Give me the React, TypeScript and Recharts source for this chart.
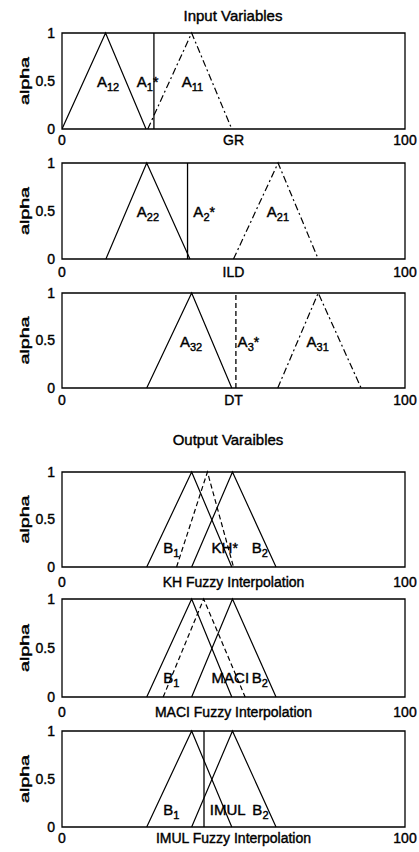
import React from "react";
import { LineChart, Line, XAxis, YAxis, ReferenceLine, ReferenceArea, ReferenceDot } from "recharts";

const FONT = "'Liberation Sans', Arial, Helvetica, sans-serif";

// triangular memberships: [left foot, peak, right foot]
const A12 = [0, 12.7, 24.5];
const A11 = [25, 37.8, 49.5];
const A1_STAR = 26.8;

const A22 = [12.8, 24.7, 37.3];
const A21 = [50, 63, 74.7];
const A2_STAR = 36.6;

const A32 = [24.7, 37.8, 49.5];
const A31 = [62.9, 74.7, 87.2];
const A3_STAR = 50.7;

const B1 = [24.7, 37.8, 49.5];
const B2 = [37.8, 49.7, 62.4];
const KH_STAR = [33.4, 42.4, 50];
const MACI = [29.5, 41.3, 53.4];
const IMUL = 41.4;

const X_TICKS = [0, 100];
const Y_TICKS = [0, 0.5, 1];

const tri = (t: number[]) => [
  { x: t[0], y: 0 },
  { x: t[1], y: 1 },
  { x: t[2], y: 0 },
];

const DASH = "5 3";
const DASHDOT = "7 3 2 3";

type Note = { base: string; sub?: string; sup?: string; x: number; y: number };
type Series = { t: number[]; dash?: string };
type Vert = { x: number; dash?: string };

const grNotes: Note[] = [
  { base: "A", sub: "12", x: 10.2, y: 0.44 },
  { base: "A", sub: "1", sup: "*", x: 21.8, y: 0.44 },
  { base: "A", sub: "11", x: 34.9, y: 0.44 },
];
const ildNotes: Note[] = [
  { base: "A", sub: "22", x: 21.8, y: 0.44 },
  { base: "A", sub: "2", sup: "*", x: 38.3, y: 0.44 },
  { base: "A", sub: "21", x: 59.7, y: 0.44 },
];
const dtNotes: Note[] = [
  { base: "A", sub: "32", x: 34.4, y: 0.43 },
  { base: "A", sub: "3", sup: "*", x: 51.2, y: 0.43 },
  { base: "A", sub: "31", x: 71.3, y: 0.43 },
];
const khNotes: Note[] = [
  { base: "B", sub: "1", x: 29.5, y: 0.15 },
  { base: "KH", sup: "*", x: 43.6, y: 0.15 },
  { base: "B", sub: "2", x: 55.3, y: 0.15 },
];
const maciNotes: Note[] = [
  { base: "B", sub: "1", x: 29.5, y: 0.14 },
  { base: "MACI", x: 43.6, y: 0.14 },
  { base: "B", sub: "2", x: 55.3, y: 0.14 },
];
const imulNotes: Note[] = [
  { base: "B", sub: "1", x: 29.5, y: 0.125 },
  { base: "IMUL", x: 43.1, y: 0.125 },
  { base: "B", sub: "2", x: 55.5, y: 0.125 },
];

const txt = { fill: "#000", stroke: "#000", strokeWidth: 0.4 };

function noteContent(n: Note) {
  return (props: any) => {
    const vb = props.viewBox || {};
    const x = vb.x + (vb.width || 0) / 2;
    const y = vb.y + (vb.height || 0) / 2;
    return (
      <text x={x} y={y} fontSize={15} fontFamily={FONT} {...txt}>
        {n.base}
        {n.sub && (
          <tspan dy={4} fontSize={11}>
            {n.sub}
          </tspan>
        )}
        {n.sup && (
          <tspan dy={n.sub ? -4 : 0} fontSize={14}>
            {n.sup}
          </tspan>
        )}
      </text>
    );
  };
}

interface PanelProps {
  top: number;
  h: number;
  xLabel: string;
  gap: number;
  series: Series[];
  verts: Vert[];
  notes: Note[];
}

function Panel({ top, h, xLabel, gap, series, verts, notes }: PanelProps) {
  const mt = 10;
  const xh = 25;
  const tick = { fill: "#000", fontSize: 14, fontFamily: FONT, stroke: "#000", strokeWidth: 0.4 };
  return (
    <div style={{ position: "absolute", left: 0, top: top - mt }}>
      <LineChart width={419} height={mt + h + xh} margin={{ top: mt, right: 14, bottom: 0, left: 22 }}>
        <XAxis
          type="number"
          dataKey="x"
          domain={[0, 100]}
          ticks={X_TICKS}
          interval={0}
          allowDataOverflow
          axisLine={false}
          tickLine={false}
          tickSize={0}
          tickMargin={gap}
          height={xh}
          tick={tick}
          label={(p: any) => {
            const vb = p.viewBox;
            return (
              <text x={vb.x + vb.width / 2} y={vb.y + gap} dy="0.71em" textAnchor="middle" fontSize={14} fontFamily={FONT} {...txt}>
                {xLabel}
              </text>
            );
          }}
        />
        <YAxis
          type="number"
          domain={[0, 1]}
          ticks={Y_TICKS}
          interval={0}
          width={40}
          axisLine={false}
          tickLine={false}
          tickSize={0}
          tickMargin={7}
          tick={tick}
          label={(p: any) => {
            const vb = p.viewBox;
            const cy = vb.y + vb.height / 2;
            return (
              <text
                x={24}
                y={cy}
                dy="0.35em"
                transform={`rotate(-90 24 ${cy})`}
                textAnchor="middle"
                fontSize={13}
                fontFamily={FONT}
                textLength={48}
                lengthAdjust="spacingAndGlyphs"
                {...txt}
              >
                alpha
              </text>
            );
          }}
        />
        <ReferenceArea x1={0} x2={100} y1={0} y2={1} fill="none" fillOpacity={0} stroke="#000" strokeWidth={1.3} />
        {series.map((s, i) => (
          <Line
            key={i}
            data={tri(s.t)}
            dataKey="y"
            type="linear"
            dot={false}
            stroke="#000"
            strokeWidth={1.2}
            strokeDasharray={s.dash}
            isAnimationActive={false}
          />
        ))}
        {verts.map((v, i) => (
          <ReferenceLine key={i} x={v.x} stroke="#000" strokeWidth={1.3} strokeDasharray={v.dash} />
        ))}
        {notes.map((n, i) => (
          <ReferenceDot key={i} x={n.x} y={n.y} r={0} fill="none" stroke="none" label={noteContent(n)} />
        ))}
      </LineChart>
    </div>
  );
}

export default function App() {
  return (
    <div style={{ position: "absolute", left: 0, top: 0, width: 419, height: 852, background: "#fff", overflow: "hidden" }}>
      <svg width={419} height={852} style={{ position: "absolute", left: 0, top: 0 }}>
        <text x={233} y={21} textAnchor="middle" fontSize={15} fontFamily={FONT} {...txt}>
          Input Variables
        </text>
        <text x={228} y={445} textAnchor="middle" fontSize={15} fontFamily={FONT} {...txt}>
          Output Varaibles
        </text>
      </svg>
      <Panel
        top={33}
        h={96}
        xLabel="GR"
        gap={6}
        series={[{ t: A12 }, { t: A11, dash: DASHDOT }]}
        verts={[{ x: A1_STAR }]}
        notes={grNotes}
      />
      <Panel
        top={163}
        h={96}
        xLabel="ILD"
        gap={8}
        series={[{ t: A22 }, { t: A21, dash: DASHDOT }]}
        verts={[{ x: A2_STAR }]}
        notes={ildNotes}
      />
      <Panel
        top={293}
        h={95}
        xLabel="DT"
        gap={7}
        series={[{ t: A32 }, { t: A31, dash: DASHDOT }]}
        verts={[{ x: A3_STAR, dash: DASH }]}
        notes={dtNotes}
      />
      <Panel
        top={472}
        h={95}
        xLabel="KH Fuzzy Interpolation"
        gap={10}
        series={[{ t: B1 }, { t: B2 }, { t: KH_STAR, dash: DASH }]}
        verts={[]}
        notes={khNotes}
      />
      <Panel
        top={599}
        h={98}
        xLabel="MACI Fuzzy Interpolation"
        gap={10}
        series={[{ t: B1 }, { t: B2 }, { t: MACI, dash: DASH }]}
        verts={[]}
        notes={maciNotes}
      />
      <Panel
        top={731}
        h={96}
        xLabel="IMUL Fuzzy Interpolation"
        gap={6}
        series={[{ t: B1 }, { t: B2 }]}
        verts={[{ x: IMUL }]}
        notes={imulNotes}
      />
    </div>
  );
}
